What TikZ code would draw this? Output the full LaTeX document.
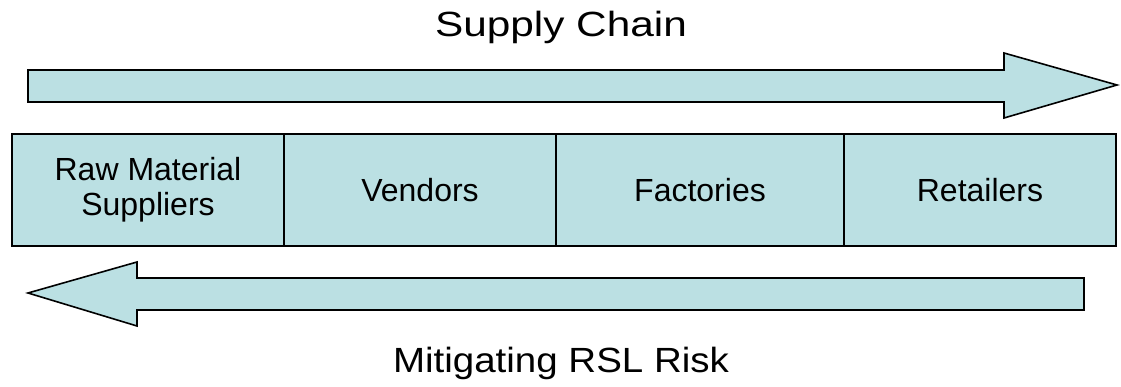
\documentclass[tikz,border=0pt]{standalone}
\usepackage{fontspec}
\setmainfont{Liberation Sans}
\definecolor{chainfill}{RGB}{187,224,227}
\begin{document}
\begin{tikzpicture}[x=1pt,y=-1pt,
  shapeline/.style={draw=black, line width=1.6pt, fill=chainfill, line join=miter},
  cell/.style={draw=black, line width=1.6pt, fill=chainfill, minimum height=112pt, inner sep=0pt, align=center, font=\fontsize{32}{35}\selectfont},
  title/.style={font=\fontsize{35}{40}\selectfont, inner sep=0pt, anchor=base}]
\useasboundingbox (0,0) rectangle (1121,387);
% top arrow
\draw[shapeline] (28,70) -- (1004,70) -- (1004,53) -- (1117,85) -- (1004,118) -- (1004,102) -- (28,102) -- cycle;
% bottom arrow
\draw[shapeline] (1084,278) -- (137,278) -- (137,262) -- (28,293) -- (137,326) -- (137,310) -- (1084,310) -- cycle;
% cells
\node[cell, minimum width=272pt] (raw) at (148,190) {Raw Material\\Suppliers};
\node[cell, minimum width=272pt] (ven) at (420,190) {Vendors};
\node[cell, minimum width=288pt] (fac) at (700,190) {Factories};
\node[cell, minimum width=272pt] (ret) at (980,190) {Retailers};
% titles
\node[title] (sc) at (561,37) {\scalebox{1.21}[1]{Supply Chain}};
\node[title] (mit) at (561,372) {\scalebox{1.1}[1]{Mitigating RSL Risk}};
\end{tikzpicture}
\end{document}
